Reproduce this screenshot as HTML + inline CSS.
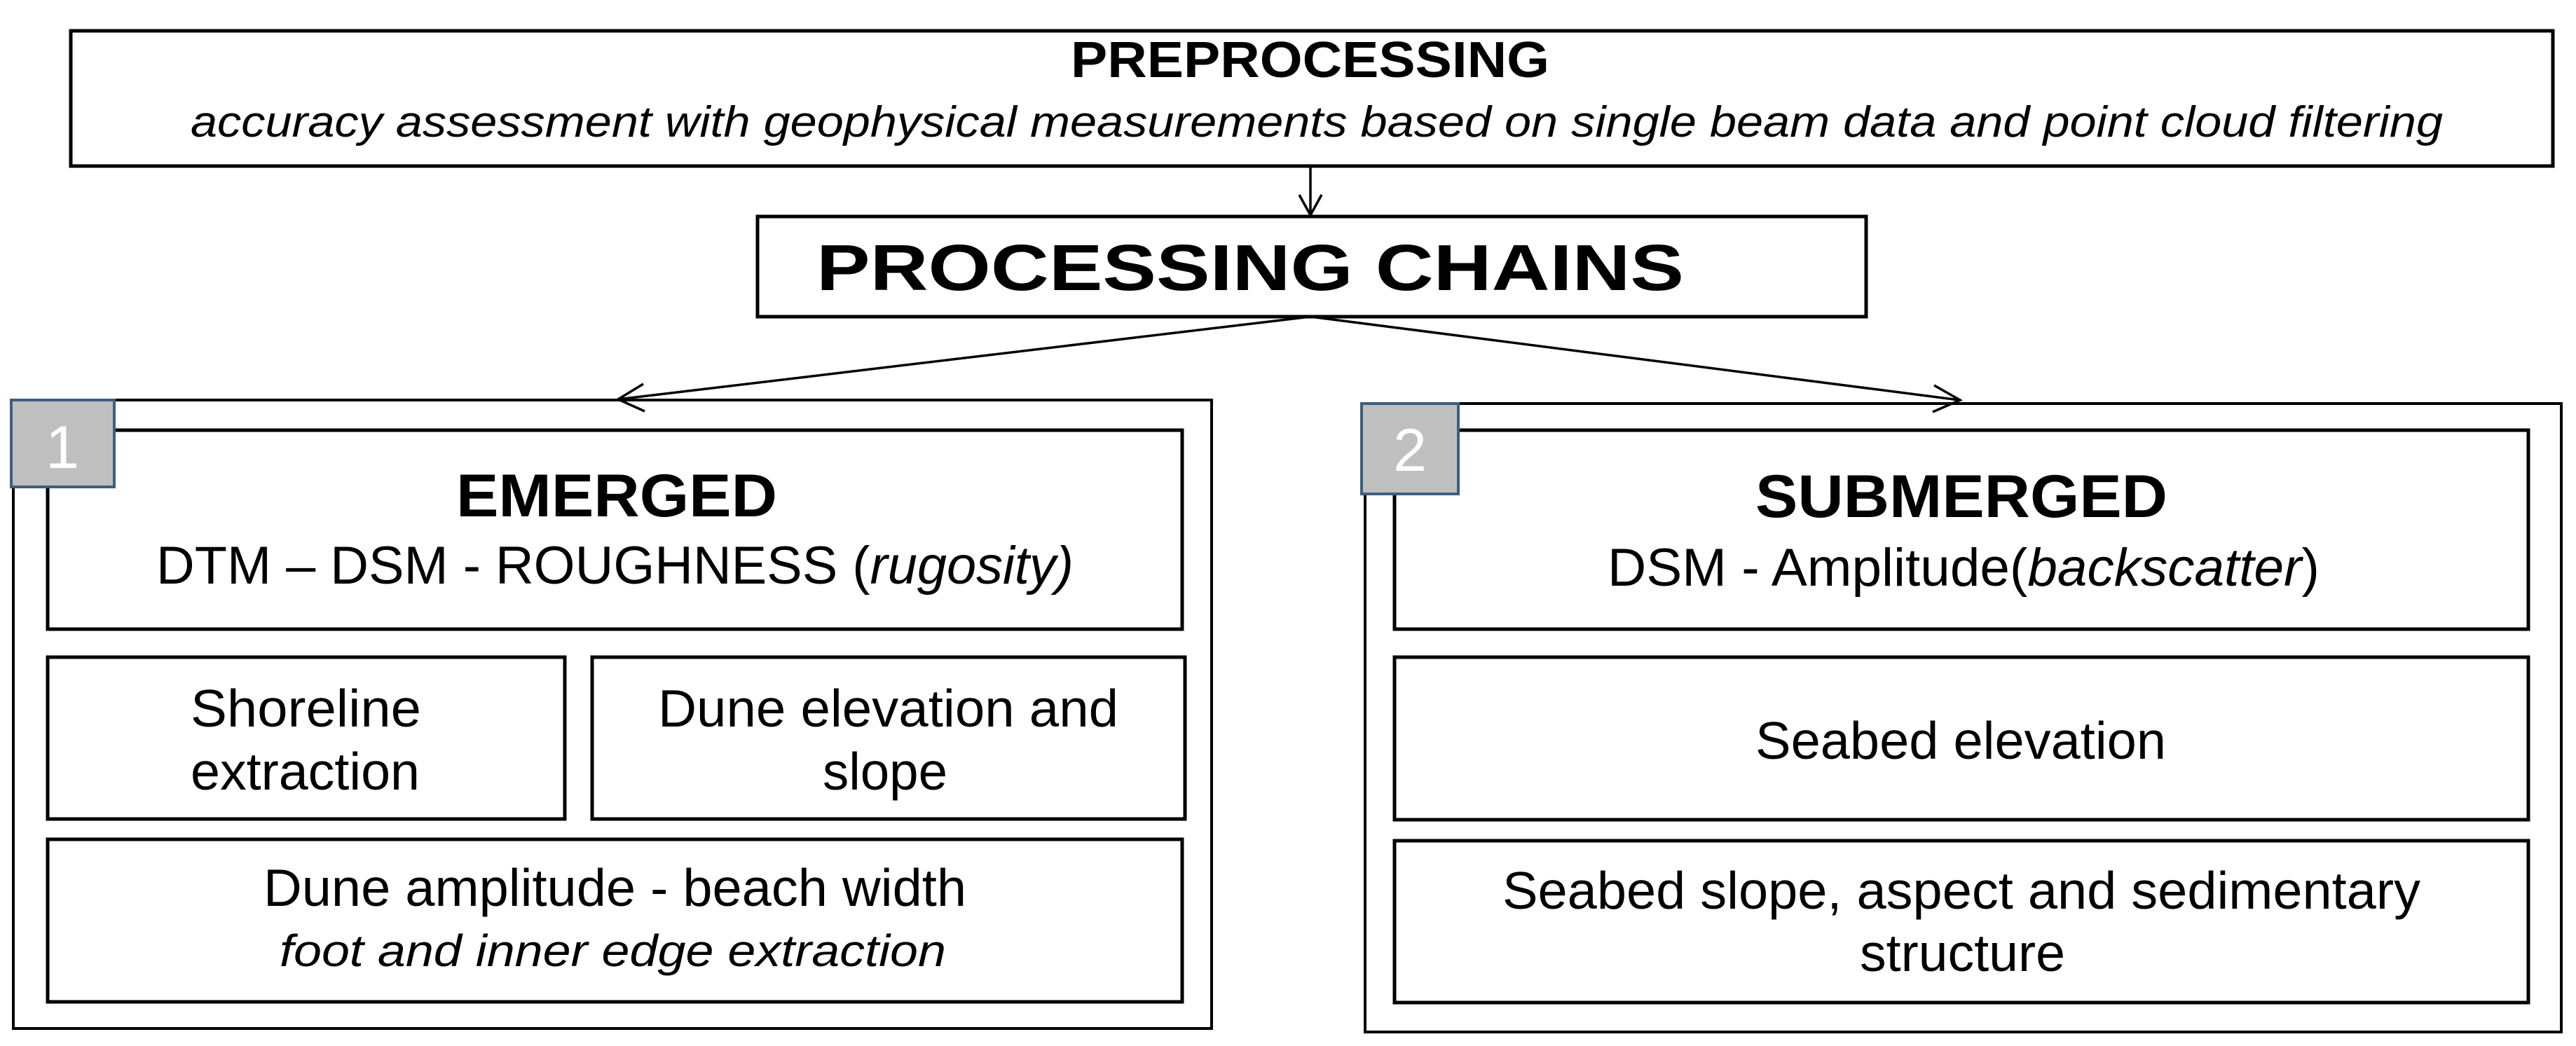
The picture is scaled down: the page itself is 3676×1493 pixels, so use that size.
<!DOCTYPE html>
<html><head><meta charset="utf-8"><style>html,body{margin:0;padding:0;background:#fff}svg{display:block}</style></head>
<body>
<svg width="3676" height="1493" viewBox="0 0 3676 1493" xmlns="http://www.w3.org/2000/svg" font-family="Liberation Sans, sans-serif">
<rect width="3676" height="1493" fill="#fff"/>
<g fill="none" stroke="#000" stroke-width="5">
<rect x="101" y="44" width="3542" height="193"/>
<rect x="1081" y="309" width="1582" height="143"/>
<rect x="19" y="571" width="1710" height="897" stroke-width="4"/>
<rect x="68" y="614" width="1619" height="284"/>
<rect x="68" y="938" width="738" height="231"/>
<rect x="845" y="938" width="846" height="231"/>
<rect x="68" y="1198" width="1619" height="232"/>
<rect x="1948" y="576" width="1707" height="897" stroke-width="4"/>
<rect x="1990" y="614" width="1618" height="284"/>
<rect x="1990" y="938" width="1618" height="232"/>
<rect x="1990" y="1200" width="1618" height="231"/>
</g>
<g stroke="#000" stroke-width="3.5" fill="none">
<line x1="1870" y1="238" x2="1870" y2="306"/>
<polyline points="1854,278 1870,307 1886,278"/>
<line x1="1870" y1="452" x2="882" y2="570"/>
<polyline points="918,548 882,570 920,587"/>
<line x1="1870" y1="452" x2="2796" y2="571"/>
<polyline points="2760,550 2797,571 2758,588"/>
</g>
<rect x="16" y="571" width="147" height="124" fill="#bfbfbf" stroke="#3f5d80" stroke-width="4"/>
<rect x="1943" y="576" width="138" height="129" fill="#bfbfbf" stroke="#3f5d80" stroke-width="4"/>
<text x="89" y="668" font-size="86" fill="#fff" text-anchor="middle">1</text>
<text x="2012" y="672" font-size="86" fill="#fff" text-anchor="middle">2</text>
<g fill="#000">
<text x="1528" y="110" font-size="72" font-weight="bold" textLength="683" lengthAdjust="spacingAndGlyphs">PREPROCESSING</text>
<text x="272" y="195" font-size="62" font-style="italic" textLength="3214" lengthAdjust="spacingAndGlyphs">accuracy assessment with geophysical measurements based on single beam data and point cloud filtering</text>
<text x="1165" y="414" font-size="93" font-weight="bold" textLength="1238" lengthAdjust="spacingAndGlyphs">PROCESSING CHAINS</text>
<text x="651" y="737" font-size="86" font-weight="bold" textLength="458" lengthAdjust="spacingAndGlyphs">EMERGED</text>
<text x="223" y="833" font-size="76" textLength="1309" lengthAdjust="spacingAndGlyphs">DTM – DSM  - ROUGHNESS (<tspan font-style="italic">rugosity)</tspan></text>
<text x="272" y="1037" font-size="75" textLength="329" lengthAdjust="spacingAndGlyphs">Shoreline</text>
<text x="272" y="1127" font-size="75" textLength="327" lengthAdjust="spacingAndGlyphs">extraction</text>
<text x="939" y="1037" font-size="75" textLength="657" lengthAdjust="spacingAndGlyphs">Dune elevation and</text>
<text x="1174" y="1127" font-size="75" textLength="178" lengthAdjust="spacingAndGlyphs">slope</text>
<text x="376" y="1293" font-size="75" textLength="1003" lengthAdjust="spacingAndGlyphs">Dune amplitude - beach width</text>
<text x="399" y="1379" font-size="64" font-style="italic" textLength="951" lengthAdjust="spacingAndGlyphs">foot  and inner edge extraction</text>
<text x="2505" y="738" font-size="86" font-weight="bold" textLength="588" lengthAdjust="spacingAndGlyphs">SUBMERGED</text>
<text x="2294" y="836" font-size="76" textLength="1016" lengthAdjust="spacingAndGlyphs">DSM  -  Amplitude(<tspan font-style="italic">backscatter</tspan>)</text>
<text x="2505" y="1083" font-size="75" textLength="586" lengthAdjust="spacingAndGlyphs">Seabed elevation</text>
<text x="2144" y="1297" font-size="75" textLength="1310" lengthAdjust="spacingAndGlyphs">Seabed slope, aspect and sedimentary</text>
<text x="2654" y="1386" font-size="75" textLength="293" lengthAdjust="spacingAndGlyphs">structure</text>
</g>
</svg>
</body></html>
